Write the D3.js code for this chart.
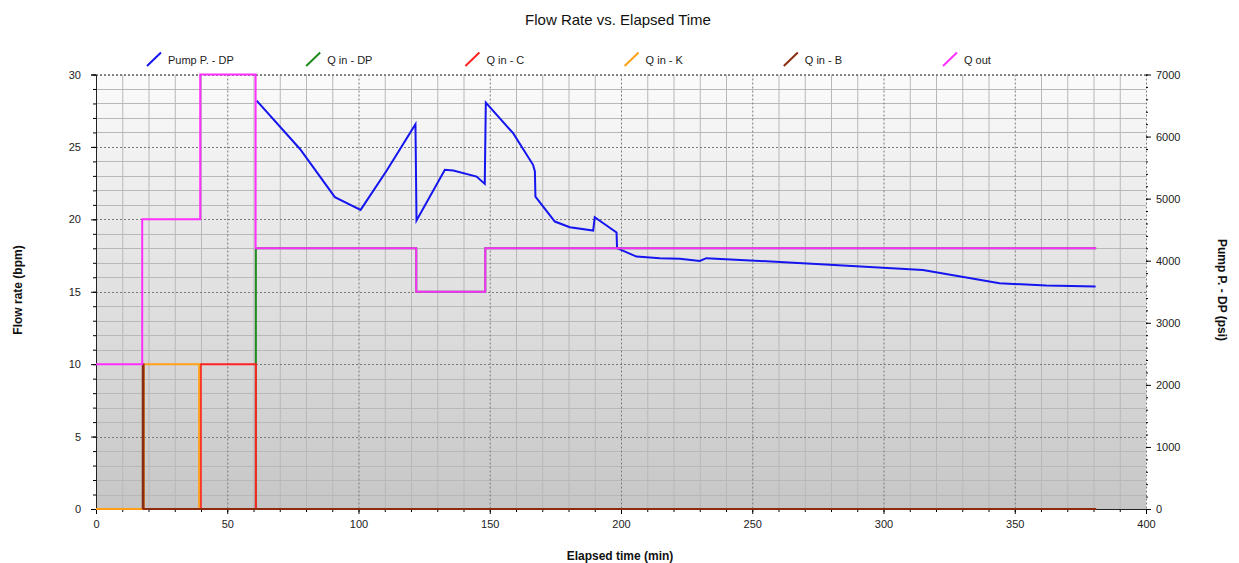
<!DOCTYPE html>
<html>
<head>
<meta charset="utf-8">
<script src="https://cdn.jsdelivr.net/npm/d3@7"></script>
<style>
  body { margin: 0; background: #fff; }
  svg { display: block; font-family: "Liberation Sans", Arial, sans-serif; }
</style>
</head>
<body>
<svg id="chart" width="1239" height="563"></svg>
<script>
// step series (value holds until next time)
const qOutTime = [0, 17.6, 39.7, 60.8, 122, 148.3, 381];
const qOutValue = [10, 20, 30, 18, 15, 18, 18];

const qInDpTime = [0, 60.9, 122, 148.3, 381];
const qInDpValue = [0, 18, 15, 18, 18];

const qInCTime = [0, 39.9, 60.9, 381];
const qInCValue = [0, 10, 0, 0];

const qInKTime = [0, 18.2, 39.3, 381];
const qInKValue = [0, 10, 0, 0];

const qInBTime = [17.8, 17.8, 18.1, 381];
const qInBValue = [0, 10, 0, 0];

// pump pressure, psi (right axis)
const pumpTime = [61.2, 77.7, 91, 100.8, 110.7, 121.7, 122.1, 132.9, 136.1, 145, 148.1, 148.5,
  158.9, 166.5, 167.2, 167.4, 174.8, 180.5, 189.4, 190.0, 198.3, 198.5, 205.9, 214.8, 222.4,
  230, 232.5, 252.9, 279.5, 315, 344.2, 362, 380.8];
const pumpValue = [6580, 5800, 5024, 4819, 5450, 6200, 4647, 5464, 5453, 5356, 5238, 6549,
  6055, 5545, 5437, 5034, 4631, 4540, 4486, 4701, 4454, 4202, 4067, 4041, 4030,
  3997, 4041, 3997, 3933, 3852, 3637, 3600, 3584];

const legendLabels = ["Pump P. - DP", "Q in - DP", "Q in - C", "Q in - K", "Q in - B", "Q out"];
const seriesColors = ["#1515f0", "#1f8a1f", "#ff2222", "#ffa018", "#8b2c10", "#ff30ff"];

const xTicks = d3.range(0, 401, 50);
const yTicks = d3.range(0, 31, 5);
const y2Ticks = d3.range(0, 7001, 1000);

const svg = d3.select("#chart");
const margin = {left: 96, right: 1146, top: 74.5, bottom: 509};

const x = d3.scaleLinear().domain([0, 400]).range([margin.left, margin.right]);
const y = d3.scaleLinear().domain([0, 30]).range([margin.bottom, margin.top]);
const y2 = d3.scaleLinear().domain([0, 7000]).range([margin.bottom, margin.top]);

// background gradient
const grad = svg.append("defs").append("linearGradient")
  .attr("id", "bg").attr("x1", 0).attr("y1", 0).attr("x2", 0).attr("y2", 1);
grad.append("stop").attr("offset", "0%").attr("stop-color", "#fbfbfb");
grad.append("stop").attr("offset", "100%").attr("stop-color", "#c6c6c6");

svg.append("rect")
  .attr("x", margin.left).attr("y", margin.top)
  .attr("width", margin.right - margin.left).attr("height", margin.bottom - margin.top)
  .attr("fill", "url(#bg)");

// grid: minor solid, major dashed
const grid = svg.append("g");
grid.selectAll(".vmin").data(d3.range(10, 400, 10).filter(d => d % 50))
  .join("line")
  .attr("x1", d => x(d) + 0.5).attr("x2", d => x(d) + 0.5)
  .attr("y1", margin.top).attr("y2", margin.bottom)
  .attr("stroke", "#b8b8b8");
grid.selectAll(".hmin").data(d3.range(1, 30).filter(d => d % 5))
  .join("line")
  .attr("x1", margin.left).attr("x2", margin.right)
  .attr("y1", d => Math.round(y(d)) + 0.5).attr("y2", d => Math.round(y(d)) + 0.5)
  .attr("stroke", "#b8b8b8");
grid.selectAll(".vmaj").data(xTicks.filter(d => d > 0 && d < 400))
  .join("line")
  .attr("x1", d => x(d) + 0.5).attr("x2", d => x(d) + 0.5)
  .attr("y1", margin.top).attr("y2", margin.bottom)
  .attr("stroke", "#7a7a7a").attr("stroke-dasharray", "2,2");
grid.selectAll(".hmaj").data(yTicks.filter(d => d > 0))
  .join("line")
  .attr("x1", margin.left).attr("x2", margin.right)
  .attr("y1", d => Math.round(y(d)) + 0.5).attr("y2", d => Math.round(y(d)) + 0.5)
  .attr("stroke", "#7a7a7a").attr("stroke-dasharray", "2,2");
// right border dashed
grid.append("line")
  .attr("x1", margin.right + 0.5).attr("x2", margin.right + 0.5)
  .attr("y1", margin.top).attr("y2", margin.bottom)
  .attr("stroke", "#7a7a7a").attr("stroke-dasharray", "2,2");

// axes
const axisFont = g => g.selectAll("text")
  .attr("font-family", "'Liberation Sans', Arial, sans-serif")
  .attr("font-size", 11).attr("fill", "#222");

const minorX = svg.append("g").attr("transform", `translate(0,${margin.bottom})`)
  .call(d3.axisBottom(x).tickValues(d3.range(0, 401, 10)).tickSize(3).tickFormat(""));
minorX.select(".domain").remove();

svg.append("g").attr("transform", `translate(0,${margin.bottom})`)
  .call(d3.axisBottom(x).tickValues(xTicks).tickSize(5).tickPadding(6))
  .call(axisFont)
  .call(g => g.select(".domain").attr("stroke", "#222"));

const minorY = svg.append("g").attr("transform", `translate(${margin.left},0)`)
  .call(d3.axisLeft(y).tickValues(d3.range(0, 31, 1)).tickSize(3).tickFormat(""));
minorY.select(".domain").remove();

svg.append("g").attr("transform", `translate(${margin.left},0)`)
  .call(d3.axisLeft(y).tickValues(yTicks).tickSize(5).tickPadding(10))
  .call(axisFont)
  .call(g => g.select(".domain").attr("stroke", "#222"));

const minorY2 = svg.append("g").attr("transform", `translate(${margin.right},0)`)
  .call(d3.axisRight(y2).tickValues(d3.range(0, 7001, 200)).tickSize(2).tickFormat(""));
minorY2.select(".domain").remove();

svg.append("g").attr("transform", `translate(${margin.right},0)`)
  .call(d3.axisRight(y2).tickValues(y2Ticks).tickSize(5).tickPadding(5).tickFormat(d3.format("d")))
  .call(axisFont)
  .call(g => g.select(".domain").remove());

// top border
svg.append("line")
  .attr("x1", margin.left).attr("x2", margin.right)
  .attr("y1", margin.top).attr("y2", margin.top)
  .attr("stroke", "#8a8a8a").attr("stroke-dasharray", "2,2");

// series
const stepLine = d3.line().x(d => x(d[0])).y(d => y(d[1])).curve(d3.curveStepAfter);
const pumpLine = d3.line().x(d => x(d[0])).y(d => y2(d[1]));

const lines = svg.append("g").attr("fill", "none").attr("stroke-width", 2);
lines.append("path").attr("d", pumpLine(d3.zip(pumpTime, pumpValue))).attr("stroke", seriesColors[0]);
lines.append("path").attr("d", stepLine(d3.zip(qInDpTime, qInDpValue))).attr("stroke", seriesColors[1]);
lines.append("path").attr("d", stepLine(d3.zip(qInCTime, qInCValue))).attr("stroke", seriesColors[2]);
lines.append("path").attr("d", stepLine(d3.zip(qInKTime, qInKValue))).attr("stroke", seriesColors[3]);
lines.append("path").attr("d", stepLine(d3.zip(qInBTime, qInBValue))).attr("stroke", seriesColors[4]);
lines.append("path").attr("d", stepLine(d3.zip(qOutTime, qOutValue))).attr("stroke", seriesColors[5]);

// legend
const legend = svg.append("g").selectAll("g").data(legendLabels).join("g")
  .attr("transform", (d, i) => `translate(${147 + i * 159.2},0)`);
legend.append("line")
  .attr("x1", 0).attr("y1", 66).attr("x2", 14).attr("y2", 52.5)
  .attr("stroke", (d, i) => seriesColors[i]).attr("stroke-width", 2);
legend.append("text")
  .attr("x", 21).attr("y", 63.5)
  .attr("font-size", 11).attr("fill", "#222")
  .text(d => d);

// titles
svg.append("text")
  .attr("x", 618).attr("y", 25).attr("text-anchor", "middle")
  .attr("font-size", 15).attr("fill", "#111")
  .text("Flow Rate vs. Elapsed Time");

svg.append("text")
  .attr("x", 620).attr("y", 560).attr("text-anchor", "middle")
  .attr("font-size", 12).attr("font-weight", "bold").attr("fill", "#111")
  .text("Elapsed time (min)");

svg.append("text")
  .attr("transform", "translate(22,290) rotate(-90)").attr("text-anchor", "middle")
  .attr("font-size", 12).attr("font-weight", "bold").attr("fill", "#111")
  .text("Flow rate (bpm)");

svg.append("text")
  .attr("transform", "translate(1218,290) rotate(90)").attr("text-anchor", "middle")
  .attr("font-size", 12).attr("font-weight", "bold").attr("fill", "#111")
  .text("Pump P. - DP (psi)");
</script>
</body>
</html>
